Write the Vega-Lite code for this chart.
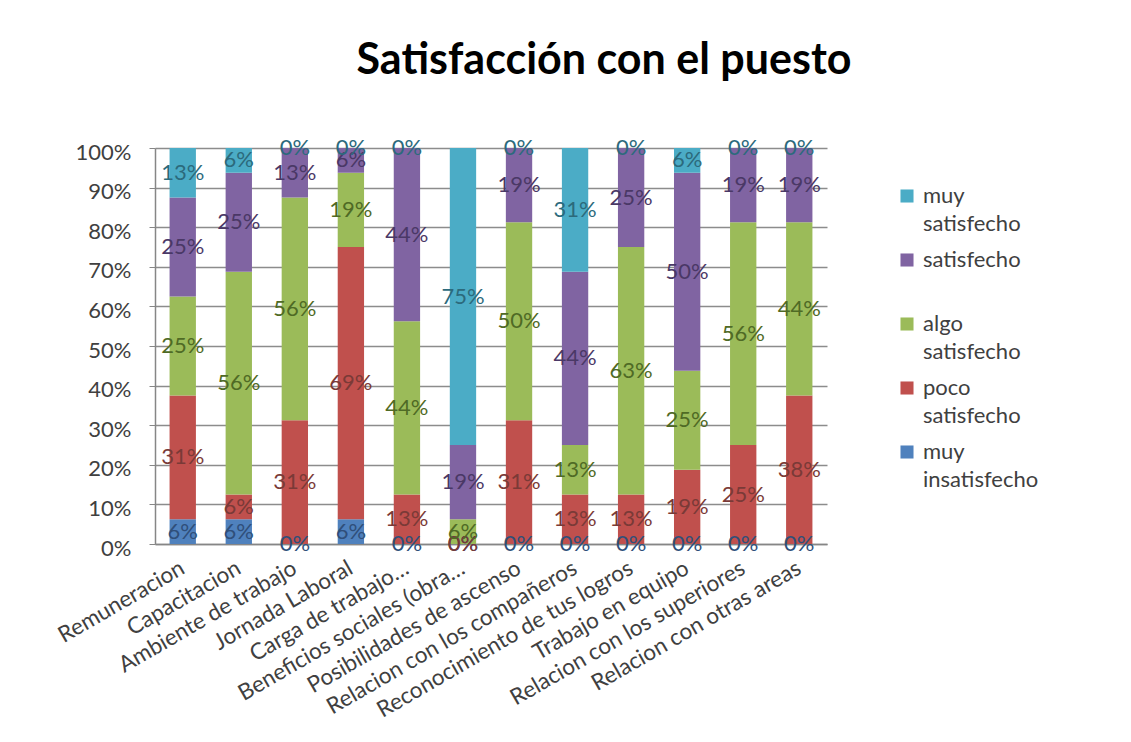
{
  "$schema": "https://vega.github.io/schema/vega-lite/v6.json",
  "autosize": "none",
  "width": 672,
  "height": 396,
  "padding": {"left": 155, "top": 148, "right": 304, "bottom": 198},
  "background": "#ffffff",
  "title": {
    "text": "Satisfacción con el puesto",
    "font": "Lato",
    "fontSize": 43,
    "fontWeight": "bold",
    "color": "#000000",
    "anchor": "middle",
    "dx": 113,
    "offset": 54
  },
  "data": {
    "values": [
      {"aspecto": "Remuneracion", "nivel": "muy insatisfecho", "orden": 1, "valor": 0.0625},
      {"aspecto": "Remuneracion", "nivel": "poco satisfecho", "orden": 2, "valor": 0.3125},
      {"aspecto": "Remuneracion", "nivel": "algo satisfecho", "orden": 3, "valor": 0.25},
      {"aspecto": "Remuneracion", "nivel": "satisfecho", "orden": 4, "valor": 0.25},
      {"aspecto": "Remuneracion", "nivel": "muy satisfecho", "orden": 5, "valor": 0.125},

      {"aspecto": "Capacitacion", "nivel": "muy insatisfecho", "orden": 1, "valor": 0.0625},
      {"aspecto": "Capacitacion", "nivel": "poco satisfecho", "orden": 2, "valor": 0.0625},
      {"aspecto": "Capacitacion", "nivel": "algo satisfecho", "orden": 3, "valor": 0.5625},
      {"aspecto": "Capacitacion", "nivel": "satisfecho", "orden": 4, "valor": 0.25},
      {"aspecto": "Capacitacion", "nivel": "muy satisfecho", "orden": 5, "valor": 0.0625},

      {"aspecto": "Ambiente de trabajo", "nivel": "muy insatisfecho", "orden": 1, "valor": 0},
      {"aspecto": "Ambiente de trabajo", "nivel": "poco satisfecho", "orden": 2, "valor": 0.3125},
      {"aspecto": "Ambiente de trabajo", "nivel": "algo satisfecho", "orden": 3, "valor": 0.5625},
      {"aspecto": "Ambiente de trabajo", "nivel": "satisfecho", "orden": 4, "valor": 0.125},
      {"aspecto": "Ambiente de trabajo", "nivel": "muy satisfecho", "orden": 5, "valor": 0},

      {"aspecto": "Jornada Laboral", "nivel": "muy insatisfecho", "orden": 1, "valor": 0.0625},
      {"aspecto": "Jornada Laboral", "nivel": "poco satisfecho", "orden": 2, "valor": 0.6875},
      {"aspecto": "Jornada Laboral", "nivel": "algo satisfecho", "orden": 3, "valor": 0.1875},
      {"aspecto": "Jornada Laboral", "nivel": "satisfecho", "orden": 4, "valor": 0.0625},
      {"aspecto": "Jornada Laboral", "nivel": "muy satisfecho", "orden": 5, "valor": 0},

      {"aspecto": "Carga de trabajo…", "nivel": "muy insatisfecho", "orden": 1, "valor": 0},
      {"aspecto": "Carga de trabajo…", "nivel": "poco satisfecho", "orden": 2, "valor": 0.125},
      {"aspecto": "Carga de trabajo…", "nivel": "algo satisfecho", "orden": 3, "valor": 0.4375},
      {"aspecto": "Carga de trabajo…", "nivel": "satisfecho", "orden": 4, "valor": 0.4375},
      {"aspecto": "Carga de trabajo…", "nivel": "muy satisfecho", "orden": 5, "valor": 0},

      {"aspecto": "Beneficios sociales (obra…", "nivel": "muy insatisfecho", "orden": 1, "valor": 0},
      {"aspecto": "Beneficios sociales (obra…", "nivel": "poco satisfecho", "orden": 2, "valor": 0},
      {"aspecto": "Beneficios sociales (obra…", "nivel": "algo satisfecho", "orden": 3, "valor": 0.0625},
      {"aspecto": "Beneficios sociales (obra…", "nivel": "satisfecho", "orden": 4, "valor": 0.1875},
      {"aspecto": "Beneficios sociales (obra…", "nivel": "muy satisfecho", "orden": 5, "valor": 0.75},

      {"aspecto": "Posibilidades de ascenso", "nivel": "muy insatisfecho", "orden": 1, "valor": 0},
      {"aspecto": "Posibilidades de ascenso", "nivel": "poco satisfecho", "orden": 2, "valor": 0.3125},
      {"aspecto": "Posibilidades de ascenso", "nivel": "algo satisfecho", "orden": 3, "valor": 0.5},
      {"aspecto": "Posibilidades de ascenso", "nivel": "satisfecho", "orden": 4, "valor": 0.1875},
      {"aspecto": "Posibilidades de ascenso", "nivel": "muy satisfecho", "orden": 5, "valor": 0},

      {"aspecto": "Relacion con los compañeros", "nivel": "muy insatisfecho", "orden": 1, "valor": 0},
      {"aspecto": "Relacion con los compañeros", "nivel": "poco satisfecho", "orden": 2, "valor": 0.125},
      {"aspecto": "Relacion con los compañeros", "nivel": "algo satisfecho", "orden": 3, "valor": 0.125},
      {"aspecto": "Relacion con los compañeros", "nivel": "satisfecho", "orden": 4, "valor": 0.4375},
      {"aspecto": "Relacion con los compañeros", "nivel": "muy satisfecho", "orden": 5, "valor": 0.3125},

      {"aspecto": "Reconocimiento de tus logros", "nivel": "muy insatisfecho", "orden": 1, "valor": 0},
      {"aspecto": "Reconocimiento de tus logros", "nivel": "poco satisfecho", "orden": 2, "valor": 0.125},
      {"aspecto": "Reconocimiento de tus logros", "nivel": "algo satisfecho", "orden": 3, "valor": 0.625},
      {"aspecto": "Reconocimiento de tus logros", "nivel": "satisfecho", "orden": 4, "valor": 0.25},
      {"aspecto": "Reconocimiento de tus logros", "nivel": "muy satisfecho", "orden": 5, "valor": 0},

      {"aspecto": "Trabajo en equipo", "nivel": "muy insatisfecho", "orden": 1, "valor": 0},
      {"aspecto": "Trabajo en equipo", "nivel": "poco satisfecho", "orden": 2, "valor": 0.1875},
      {"aspecto": "Trabajo en equipo", "nivel": "algo satisfecho", "orden": 3, "valor": 0.25},
      {"aspecto": "Trabajo en equipo", "nivel": "satisfecho", "orden": 4, "valor": 0.5},
      {"aspecto": "Trabajo en equipo", "nivel": "muy satisfecho", "orden": 5, "valor": 0.0625},

      {"aspecto": "Relacion con los superiores", "nivel": "muy insatisfecho", "orden": 1, "valor": 0},
      {"aspecto": "Relacion con los superiores", "nivel": "poco satisfecho", "orden": 2, "valor": 0.25},
      {"aspecto": "Relacion con los superiores", "nivel": "algo satisfecho", "orden": 3, "valor": 0.5625},
      {"aspecto": "Relacion con los superiores", "nivel": "satisfecho", "orden": 4, "valor": 0.1875},
      {"aspecto": "Relacion con los superiores", "nivel": "muy satisfecho", "orden": 5, "valor": 0},

      {"aspecto": "Relacion con otras areas", "nivel": "muy insatisfecho", "orden": 1, "valor": 0},
      {"aspecto": "Relacion con otras areas", "nivel": "poco satisfecho", "orden": 2, "valor": 0.375},
      {"aspecto": "Relacion con otras areas", "nivel": "algo satisfecho", "orden": 3, "valor": 0.4375},
      {"aspecto": "Relacion con otras areas", "nivel": "satisfecho", "orden": 4, "valor": 0.1875},
      {"aspecto": "Relacion con otras areas", "nivel": "muy satisfecho", "orden": 5, "valor": 0}
    ]
  },
  "transform": [
    {"stack": "valor", "groupby": ["aspecto"], "sort": [{"field": "orden", "order": "ascending"}], "as": ["v0", "v1"]},
    {"calculate": "(datum.v0 + datum.v1) / 2", "as": "vmid"}
  ],
  "encoding": {
    "x": {
      "field": "aspecto",
      "type": "nominal",
      "sort": null,
      "scale": {"paddingInner": 0.53, "paddingOuter": 0.26},
      "axis": {
        "title": null,
        "labelAngle": -30,
        "labelAlign": "right",
        "labelBaseline": "middle",
        "labelFont": "Lato",
        "labelFontSize": 22.5,
        "labelColor": "#404040",
        "labelLimit": 500,
        "labelPadding": 22,
        "domainColor": "#868686",
        "domainWidth": 1.5,
        "ticks": false,
        "grid": false
      }
    }
  },
  "layer": [
    {
      "mark": {"type": "bar"},
      "encoding": {
        "y": {
          "field": "v1",
          "type": "quantitative",
          "scale": {"domain": [0, 1], "nice": false},
          "axis": {
            "title": null,
            "format": ".0%",
            "values": [0, 0.1, 0.2, 0.3, 0.4, 0.5, 0.6, 0.7, 0.8, 0.9, 1],
            "labelOverlap": false,
            "labelFont": "Lato",
            "labelFontSize": 22,
            "labelColor": "#404040",
            "labelPadding": 18,
            "labelOffset": 4,
            "domainColor": "#868686",
            "domainWidth": 1.5,
            "tickColor": "#868686",
            "tickSize": 6,
            "grid": true,
            "gridColor": "#8c8c8c",
            "gridWidth": 1.5
          }
        },
        "y2": {"field": "v0"},
        "color": {
          "field": "nivel",
          "type": "nominal",
          "scale": {
            "domain": ["muy satisfecho", "satisfecho", "algo satisfecho", "poco satisfecho", "muy insatisfecho"],
            "range": ["#4BACC6", "#8064A2", "#9BBB59", "#C0504D", "#4F81BD"]
          },
          "legend": {
            "title": null,
            "orient": "none",
            "legendX": 741,
            "legendY": 37,
            "direction": "vertical",
            "symbolType": "square",
            "symbolSize": 170,
            "symbolStrokeWidth": 0,
            "labelFont": "Lato",
            "labelFontSize": 22,
            "labelColor": "#404040",
            "labelBaseline": "alphabetic",
            "labelOffset": 5,
            "labelLimit": 300,
            "labelExpr": "split(datum.label, ' ')",
            "gridAlign": "all",
            "rowPadding": 14,
            "encode": {"labels": {"update": {"dy": {"value": 7}, "lineHeight": {"value": 28}}}}
          }
        }
      }
    },
    {
      "mark": {"type": "text", "font": "Lato", "fontSize": 22, "align": "center", "baseline": "middle"},
      "encoding": {
        "y": {"field": "vmid", "type": "quantitative", "axis": null},
        "text": {"field": "valor", "type": "quantitative", "format": ".0%"},
        "fill": {
          "field": "nivel",
          "type": "nominal",
          "scale": {
            "domain": ["muy satisfecho", "satisfecho", "algo satisfecho", "poco satisfecho", "muy insatisfecho"],
            "range": ["#2c6a7c", "#4a3866", "#4f6a25", "#7a3a37", "#2f4f7a"]
          },
          "legend": null
        }
      }
    }
  ],
  "resolve": {"axis": {"y": "independent"}},
  "config": {
    "view": {"stroke": null}
  }
}
